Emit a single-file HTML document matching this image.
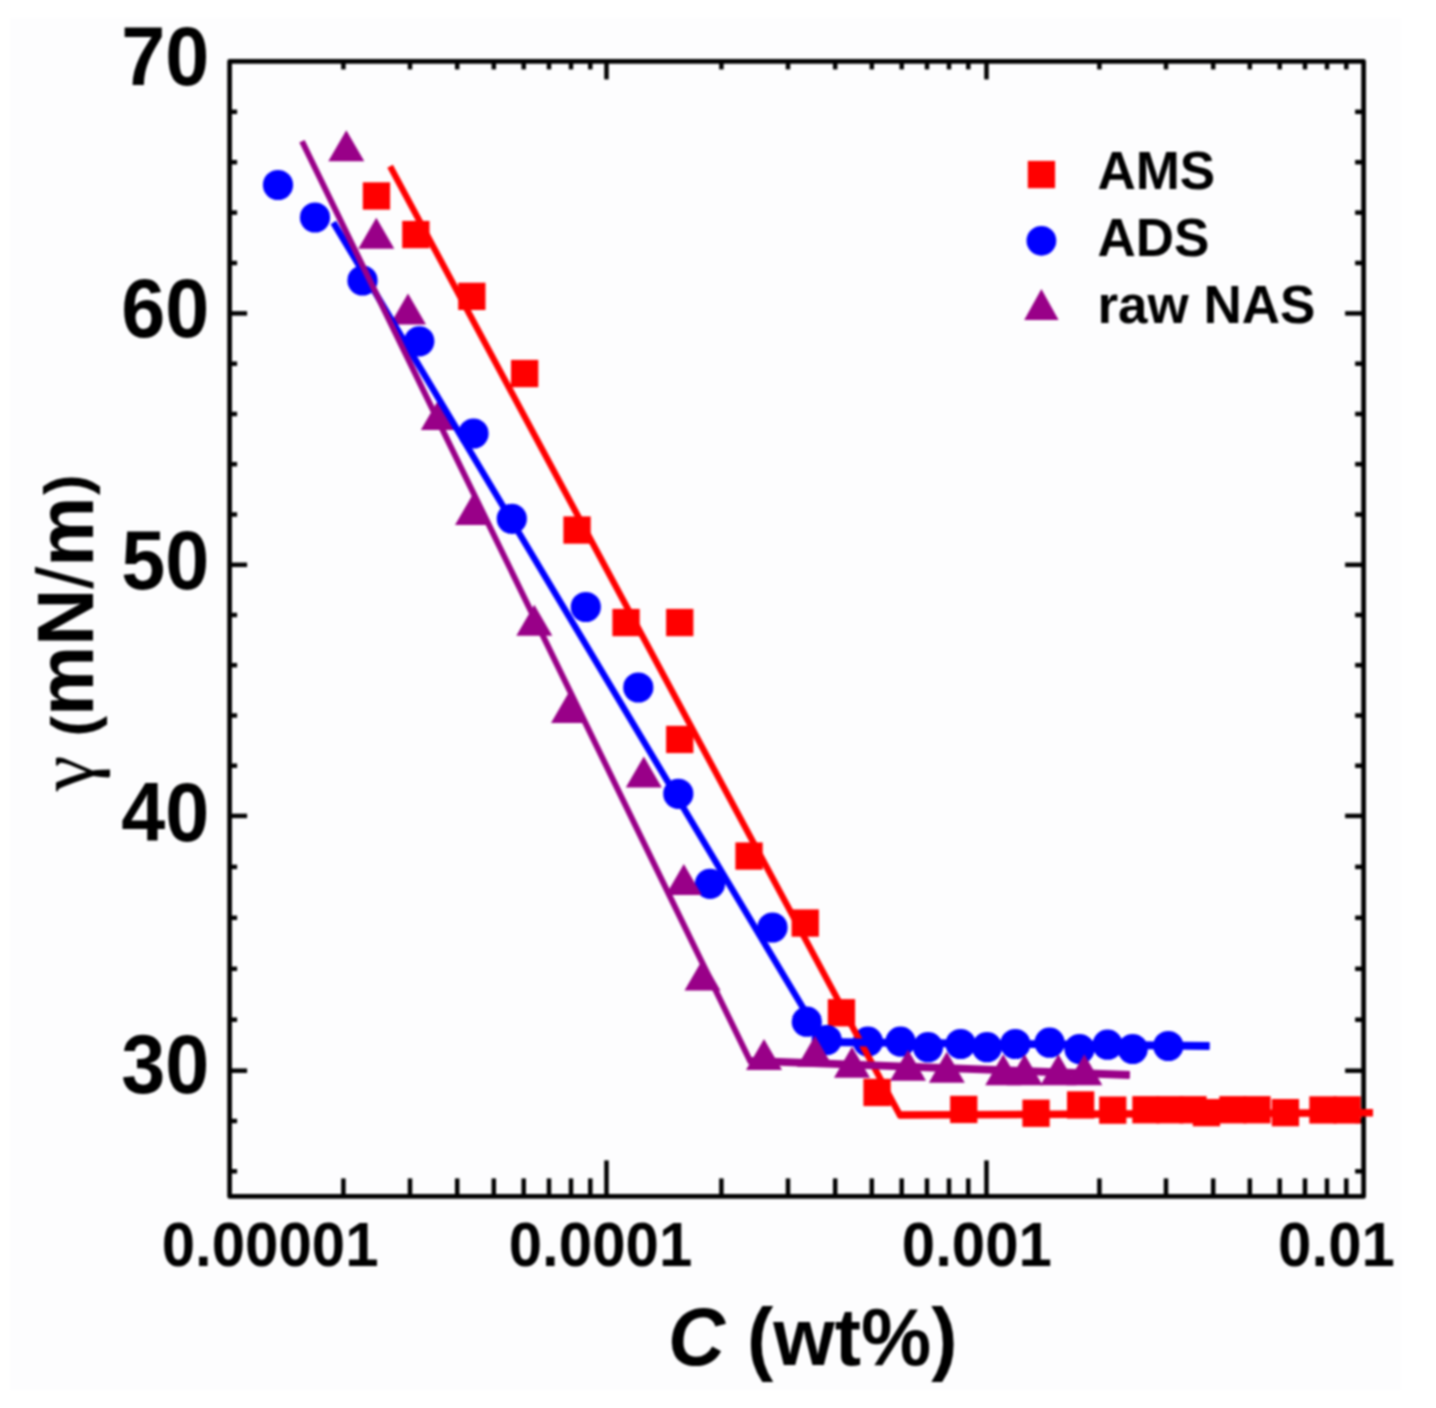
<!DOCTYPE html>
<html><head><meta charset="utf-8"><title>Surface tension vs concentration</title>
<style>
html,body{margin:0;padding:0;background:#fff;}
body{width:1436px;height:1408px;overflow:hidden;}
svg{display:block;filter:blur(0.8px);}
</style></head><body>
<svg width="1436" height="1408" viewBox="0 0 1436 1408">
<rect x="0" y="0" width="1436" height="1408" fill="#ffffff"/>
<rect x="10" y="18" width="1391" height="1372" fill="#fdfdfe"/>
<g stroke="#000" stroke-width="4.5">
<line x1="343.4" y1="1196.4" x2="343.4" y2="1178.4"/>
<line x1="343.4" y1="61.4" x2="343.4" y2="69.4"/>
<line x1="410.0" y1="1196.4" x2="410.0" y2="1178.4"/>
<line x1="410.0" y1="61.4" x2="410.0" y2="69.4"/>
<line x1="457.2" y1="1196.4" x2="457.2" y2="1178.4"/>
<line x1="457.2" y1="61.4" x2="457.2" y2="69.4"/>
<line x1="493.8" y1="1196.4" x2="493.8" y2="1178.4"/>
<line x1="493.8" y1="61.4" x2="493.8" y2="69.4"/>
<line x1="523.7" y1="1196.4" x2="523.7" y2="1178.4"/>
<line x1="523.7" y1="61.4" x2="523.7" y2="69.4"/>
<line x1="549.0" y1="1196.4" x2="549.0" y2="1178.4"/>
<line x1="549.0" y1="61.4" x2="549.0" y2="69.4"/>
<line x1="571.0" y1="1196.4" x2="571.0" y2="1178.4"/>
<line x1="571.0" y1="61.4" x2="571.0" y2="69.4"/>
<line x1="590.3" y1="1196.4" x2="590.3" y2="1178.4"/>
<line x1="590.3" y1="61.4" x2="590.3" y2="69.4"/>
<line x1="606.5" y1="1196.4" x2="606.5" y2="1160.4"/>
<line x1="606.5" y1="61.4" x2="606.5" y2="79.4"/>
<line x1="721.4" y1="1196.4" x2="721.4" y2="1178.4"/>
<line x1="721.4" y1="61.4" x2="721.4" y2="69.4"/>
<line x1="788.0" y1="1196.4" x2="788.0" y2="1178.4"/>
<line x1="788.0" y1="61.4" x2="788.0" y2="69.4"/>
<line x1="835.2" y1="1196.4" x2="835.2" y2="1178.4"/>
<line x1="835.2" y1="61.4" x2="835.2" y2="69.4"/>
<line x1="871.8" y1="1196.4" x2="871.8" y2="1178.4"/>
<line x1="871.8" y1="61.4" x2="871.8" y2="69.4"/>
<line x1="901.7" y1="1196.4" x2="901.7" y2="1178.4"/>
<line x1="901.7" y1="61.4" x2="901.7" y2="69.4"/>
<line x1="927.0" y1="1196.4" x2="927.0" y2="1178.4"/>
<line x1="927.0" y1="61.4" x2="927.0" y2="69.4"/>
<line x1="949.0" y1="1196.4" x2="949.0" y2="1178.4"/>
<line x1="949.0" y1="61.4" x2="949.0" y2="69.4"/>
<line x1="968.3" y1="1196.4" x2="968.3" y2="1178.4"/>
<line x1="968.3" y1="61.4" x2="968.3" y2="69.4"/>
<line x1="986.5" y1="1196.4" x2="986.5" y2="1160.4"/>
<line x1="986.5" y1="61.4" x2="986.5" y2="79.4"/>
<line x1="1099.4" y1="1196.4" x2="1099.4" y2="1178.4"/>
<line x1="1099.4" y1="61.4" x2="1099.4" y2="69.4"/>
<line x1="1166.0" y1="1196.4" x2="1166.0" y2="1178.4"/>
<line x1="1166.0" y1="61.4" x2="1166.0" y2="69.4"/>
<line x1="1213.2" y1="1196.4" x2="1213.2" y2="1178.4"/>
<line x1="1213.2" y1="61.4" x2="1213.2" y2="69.4"/>
<line x1="1249.8" y1="1196.4" x2="1249.8" y2="1178.4"/>
<line x1="1249.8" y1="61.4" x2="1249.8" y2="69.4"/>
<line x1="1279.7" y1="1196.4" x2="1279.7" y2="1178.4"/>
<line x1="1279.7" y1="61.4" x2="1279.7" y2="69.4"/>
<line x1="1305.0" y1="1196.4" x2="1305.0" y2="1178.4"/>
<line x1="1305.0" y1="61.4" x2="1305.0" y2="69.4"/>
<line x1="1327.0" y1="1196.4" x2="1327.0" y2="1178.4"/>
<line x1="1327.0" y1="61.4" x2="1327.0" y2="69.4"/>
<line x1="1346.3" y1="1196.4" x2="1346.3" y2="1178.4"/>
<line x1="1346.3" y1="61.4" x2="1346.3" y2="69.4"/>
<line x1="229.6" y1="1171.3" x2="237.1" y2="1171.3"/>
<line x1="1363.6" y1="1171.3" x2="1355.1" y2="1171.3"/>
<line x1="229.6" y1="1121.0" x2="237.1" y2="1121.0"/>
<line x1="1363.6" y1="1121.0" x2="1355.1" y2="1121.0"/>
<line x1="229.6" y1="1070.7" x2="247.1" y2="1070.7"/>
<line x1="1363.6" y1="1070.7" x2="1345.1" y2="1070.7"/>
<line x1="229.6" y1="1019.7" x2="237.1" y2="1019.7"/>
<line x1="1363.6" y1="1019.7" x2="1355.1" y2="1019.7"/>
<line x1="229.6" y1="968.8" x2="237.1" y2="968.8"/>
<line x1="1363.6" y1="968.8" x2="1355.1" y2="968.8"/>
<line x1="229.6" y1="917.8" x2="237.1" y2="917.8"/>
<line x1="1363.6" y1="917.8" x2="1355.1" y2="917.8"/>
<line x1="229.6" y1="866.9" x2="237.1" y2="866.9"/>
<line x1="1363.6" y1="866.9" x2="1355.1" y2="866.9"/>
<line x1="229.6" y1="815.9" x2="247.1" y2="815.9"/>
<line x1="1363.6" y1="815.9" x2="1345.1" y2="815.9"/>
<line x1="229.6" y1="765.7" x2="237.1" y2="765.7"/>
<line x1="1363.6" y1="765.7" x2="1355.1" y2="765.7"/>
<line x1="229.6" y1="715.5" x2="237.1" y2="715.5"/>
<line x1="1363.6" y1="715.5" x2="1355.1" y2="715.5"/>
<line x1="229.6" y1="665.2" x2="237.1" y2="665.2"/>
<line x1="1363.6" y1="665.2" x2="1355.1" y2="665.2"/>
<line x1="229.6" y1="615.0" x2="237.1" y2="615.0"/>
<line x1="1363.6" y1="615.0" x2="1355.1" y2="615.0"/>
<line x1="229.6" y1="564.8" x2="247.1" y2="564.8"/>
<line x1="1363.6" y1="564.8" x2="1345.1" y2="564.8"/>
<line x1="229.6" y1="514.5" x2="237.1" y2="514.5"/>
<line x1="1363.6" y1="514.5" x2="1355.1" y2="514.5"/>
<line x1="229.6" y1="464.2" x2="237.1" y2="464.2"/>
<line x1="1363.6" y1="464.2" x2="1355.1" y2="464.2"/>
<line x1="229.6" y1="414.0" x2="237.1" y2="414.0"/>
<line x1="1363.6" y1="414.0" x2="1355.1" y2="414.0"/>
<line x1="229.6" y1="363.7" x2="237.1" y2="363.7"/>
<line x1="1363.6" y1="363.7" x2="1355.1" y2="363.7"/>
<line x1="229.6" y1="313.4" x2="247.1" y2="313.4"/>
<line x1="1363.6" y1="313.4" x2="1345.1" y2="313.4"/>
<line x1="229.6" y1="263.0" x2="237.1" y2="263.0"/>
<line x1="1363.6" y1="263.0" x2="1355.1" y2="263.0"/>
<line x1="229.6" y1="212.6" x2="237.1" y2="212.6"/>
<line x1="1363.6" y1="212.6" x2="1355.1" y2="212.6"/>
<line x1="229.6" y1="162.2" x2="237.1" y2="162.2"/>
<line x1="1363.6" y1="162.2" x2="1355.1" y2="162.2"/>
<line x1="229.6" y1="111.8" x2="237.1" y2="111.8"/>
<line x1="1363.6" y1="111.8" x2="1355.1" y2="111.8"/>
</g>
<g id="sym">
<rect x="362.8" y="182.3" width="27.3" height="27.3" fill="#ff0000"/>
<rect x="402.2" y="220.9" width="27.3" height="27.3" fill="#ff0000"/>
<rect x="458.2" y="282.7" width="27.3" height="27.3" fill="#ff0000"/>
<rect x="511.0" y="359.9" width="27.3" height="27.3" fill="#ff0000"/>
<rect x="563.4" y="516.4" width="27.3" height="27.3" fill="#ff0000"/>
<rect x="612.4" y="608.9" width="27.3" height="27.3" fill="#ff0000"/>
<rect x="666.1" y="608.9" width="27.3" height="27.3" fill="#ff0000"/>
<rect x="666.1" y="725.8" width="27.3" height="27.3" fill="#ff0000"/>
<rect x="735.4" y="842.4" width="27.3" height="27.3" fill="#ff0000"/>
<rect x="791.6" y="909.4" width="27.3" height="27.3" fill="#ff0000"/>
<rect x="827.8" y="999.1" width="27.3" height="27.3" fill="#ff0000"/>
<rect x="863.4" y="1078.8" width="27.3" height="27.3" fill="#ff0000"/>
<rect x="950.1" y="1095.8" width="27.3" height="27.3" fill="#ff0000"/>
<rect x="1022.4" y="1099.6" width="27.3" height="27.3" fill="#ff0000"/>
<rect x="1067.0" y="1091.3" width="27.3" height="27.3" fill="#ff0000"/>
<rect x="1099.1" y="1096.5" width="27.3" height="27.3" fill="#ff0000"/>
<rect x="1132.3" y="1096.1" width="27.3" height="27.3" fill="#ff0000"/>
<rect x="1156.3" y="1096.1" width="27.3" height="27.3" fill="#ff0000"/>
<rect x="1179.3" y="1096.1" width="27.3" height="27.3" fill="#ff0000"/>
<rect x="1192.8" y="1099.0" width="27.3" height="27.3" fill="#ff0000"/>
<rect x="1219.3" y="1096.1" width="27.3" height="27.3" fill="#ff0000"/>
<rect x="1243.3" y="1096.1" width="27.3" height="27.3" fill="#ff0000"/>
<rect x="1271.8" y="1099.0" width="27.3" height="27.3" fill="#ff0000"/>
<rect x="1309.3" y="1096.3" width="27.3" height="27.3" fill="#ff0000"/>
<rect x="1333.5" y="1096.3" width="27.3" height="27.3" fill="#ff0000"/>
<circle cx="278" cy="185" r="15.1" fill="#0000ff"/>
<circle cx="315" cy="217.5" r="15.1" fill="#0000ff"/>
<circle cx="362.5" cy="280.5" r="15.1" fill="#0000ff"/>
<circle cx="419.3" cy="341.3" r="15.1" fill="#0000ff"/>
<circle cx="473.5" cy="433.5" r="15.1" fill="#0000ff"/>
<circle cx="511.8" cy="518.8" r="15.1" fill="#0000ff"/>
<circle cx="585.8" cy="607" r="15.1" fill="#0000ff"/>
<circle cx="638.3" cy="687.5" r="15.1" fill="#0000ff"/>
<circle cx="678.3" cy="793.8" r="15.1" fill="#0000ff"/>
<circle cx="710" cy="883.8" r="15.1" fill="#0000ff"/>
<circle cx="772.5" cy="927.5" r="15.1" fill="#0000ff"/>
<circle cx="806.8" cy="1021.7" r="15.1" fill="#0000ff"/>
<circle cx="826.7" cy="1040" r="15.1" fill="#0000ff"/>
<circle cx="867.9" cy="1041.6" r="15.1" fill="#0000ff"/>
<circle cx="900.5" cy="1041.6" r="15.1" fill="#0000ff"/>
<circle cx="928" cy="1047.2" r="15.1" fill="#0000ff"/>
<circle cx="960.6" cy="1044" r="15.1" fill="#0000ff"/>
<circle cx="987" cy="1047.2" r="15.1" fill="#0000ff"/>
<circle cx="1015.3" cy="1044" r="15.1" fill="#0000ff"/>
<circle cx="1049.6" cy="1042.7" r="15.1" fill="#0000ff"/>
<circle cx="1079.5" cy="1049" r="15.1" fill="#0000ff"/>
<circle cx="1107.6" cy="1044.7" r="15.1" fill="#0000ff"/>
<circle cx="1132.7" cy="1049" r="15.1" fill="#0000ff"/>
<circle cx="1168.3" cy="1046" r="15.1" fill="#0000ff"/>
<polygon points="328.3,161.3 364.3,161.3 346.3,130.3" fill="#990088"/>
<polygon points="358.3,248.8 394.3,248.8 376.3,217.8" fill="#990088"/>
<polygon points="390.0,324.5 426.0,324.5 408,293.5" fill="#990088"/>
<polygon points="420.8,430 456.8,430 438.8,399" fill="#990088"/>
<polygon points="455.0,525 491.0,525 473,494" fill="#990088"/>
<polygon points="516.3,635.7 552.3,635.7 534.3,604.7" fill="#990088"/>
<polygon points="551.0,723 587.0,723 569,692" fill="#990088"/>
<polygon points="625.8,787.5 661.8,787.5 643.8,756.5" fill="#990088"/>
<polygon points="665.8,895 701.8,895 683.8,864" fill="#990088"/>
<polygon points="684.5,990.5 720.5,990.5 702.5,959.5" fill="#990088"/>
<polygon points="746.0,1070 782.0,1070 764,1039" fill="#990088"/>
<polygon points="797.0,1066.8 833.0,1066.8 815,1035.8" fill="#990088"/>
<polygon points="834.0,1077.8 870.0,1077.8 852,1046.8" fill="#990088"/>
<polygon points="890.0,1080.8 926.0,1080.8 908,1049.8" fill="#990088"/>
<polygon points="928.8,1082.8 964.8,1082.8 946.8,1051.8" fill="#990088"/>
<polygon points="985.2,1085.3 1021.2,1085.3 1003.2,1054.3" fill="#990088"/>
<polygon points="1006.6,1085.3 1042.6,1085.3 1024.6,1054.3" fill="#990088"/>
<polygon points="1040.4,1085.3 1076.4,1085.3 1058.4,1054.3" fill="#990088"/>
<polygon points="1066.3,1085.3 1102.3,1085.3 1084.3,1054.3" fill="#990088"/>
</g>
<rect x="229.6" y="61.4" width="1134.0" height="1135.0" fill="none" stroke="#000" stroke-width="4.7" stroke-linejoin="round"/>
<g fill="none" stroke-linejoin="miter">
<polyline points="390.1,166.3 899.8,1115 1373,1112.8" stroke="#ff0000" stroke-width="6.3"/>
<line x1="898.8" y1="1115" x2="1373" y2="1112.8" stroke="#ff0000" stroke-width="7.6"/>
<polyline points="333.3,222.5 823.5,1042 1209.5,1046" stroke="#0000ff" stroke-width="6.4"/>
<line x1="822.5" y1="1042" x2="1209.5" y2="1046" stroke="#0000ff" stroke-width="7.8"/>
<polyline points="302,141.3 750,1060.8 1129.7,1075" stroke="#990088" stroke-width="5.9"/>
<line x1="749" y1="1060.8" x2="1129.7" y2="1075" stroke="#990088" stroke-width="7.8"/>
</g>
<text transform="translate(209.3,84.6) scale(0.99,1.04)" font-size="80" text-anchor="end" font-family="Liberation Sans, Arial, Helvetica, sans-serif" font-weight="bold" fill="#000">70</text>
<text transform="translate(209.3,336.7) scale(0.99,1.04)" font-size="80" text-anchor="end" font-family="Liberation Sans, Arial, Helvetica, sans-serif" font-weight="bold" fill="#000">60</text>
<text transform="translate(209.3,588.8) scale(0.99,1.04)" font-size="80" text-anchor="end" font-family="Liberation Sans, Arial, Helvetica, sans-serif" font-weight="bold" fill="#000">50</text>
<text transform="translate(209.3,840.9) scale(0.99,1.04)" font-size="80" text-anchor="end" font-family="Liberation Sans, Arial, Helvetica, sans-serif" font-weight="bold" fill="#000">40</text>
<text transform="translate(209.3,1093.0) scale(0.99,1.04)" font-size="80" text-anchor="end" font-family="Liberation Sans, Arial, Helvetica, sans-serif" font-weight="bold" fill="#000">30</text>
<text transform="translate(270.1,1266) scale(1,1.045)" font-size="60" text-anchor="middle" font-family="Liberation Sans, Arial, Helvetica, sans-serif" font-weight="bold" fill="#000">0.00001</text>
<text transform="translate(600.5,1266) scale(1,1.045)" font-size="60" text-anchor="middle" font-family="Liberation Sans, Arial, Helvetica, sans-serif" font-weight="bold" fill="#000">0.0001</text>
<text transform="translate(976.9,1266) scale(1,1.045)" font-size="60" text-anchor="middle" font-family="Liberation Sans, Arial, Helvetica, sans-serif" font-weight="bold" fill="#000">0.001</text>
<text transform="translate(1336.5,1266) scale(1,1.045)" font-size="60" text-anchor="middle" font-family="Liberation Sans, Arial, Helvetica, sans-serif" font-weight="bold" fill="#000">0.01</text>
<rect x="1027.8" y="160.9" width="27.3" height="27.3" fill="#ff0000"/>
<circle cx="1041.4" cy="240.8" r="14.9" fill="#0000ff"/>
<polygon points="1024.2,320 1058.6,320 1041.4,289" fill="#990088"/>
<text x="1097.4" y="189.2" font-size="53" font-family="Liberation Sans, Arial, Helvetica, sans-serif" font-weight="bold" fill="#000">AMS</text>
<text x="1097.4" y="255.5" font-size="53" font-family="Liberation Sans, Arial, Helvetica, sans-serif" font-weight="bold" fill="#000">ADS</text>
<text x="1097.4" y="323" font-size="53" font-family="Liberation Sans, Arial, Helvetica, sans-serif" font-weight="bold" fill="#000">raw NAS</text>
<text transform="translate(812.7,1365.3) scale(1,1.025)" font-size="79" text-anchor="middle" font-family="Liberation Sans, Arial, Helvetica, sans-serif" font-weight="bold" fill="#000"><tspan font-style="italic">C</tspan> (wt%)</text>
<g transform="translate(93,791) rotate(-90)">
<text x="0" y="0" font-size="80" font-family="Liberation Serif, Times New Roman, serif" fill="#000">γ</text>
<text x="54.5" y="0.5" font-size="62" font-family="Liberation Sans, Arial, Helvetica, sans-serif" font-weight="bold" fill="#000">(</text>
<text x="74.9" y="0" font-size="79" font-family="Liberation Sans, Arial, Helvetica, sans-serif" font-weight="bold" fill="#000">mN<tspan font-weight="normal">/</tspan>m</text>
<text x="296" y="-6" font-size="62" font-family="Liberation Sans, Arial, Helvetica, sans-serif" font-weight="bold" fill="#000">)</text>
</g>
</svg>
</body></html>
